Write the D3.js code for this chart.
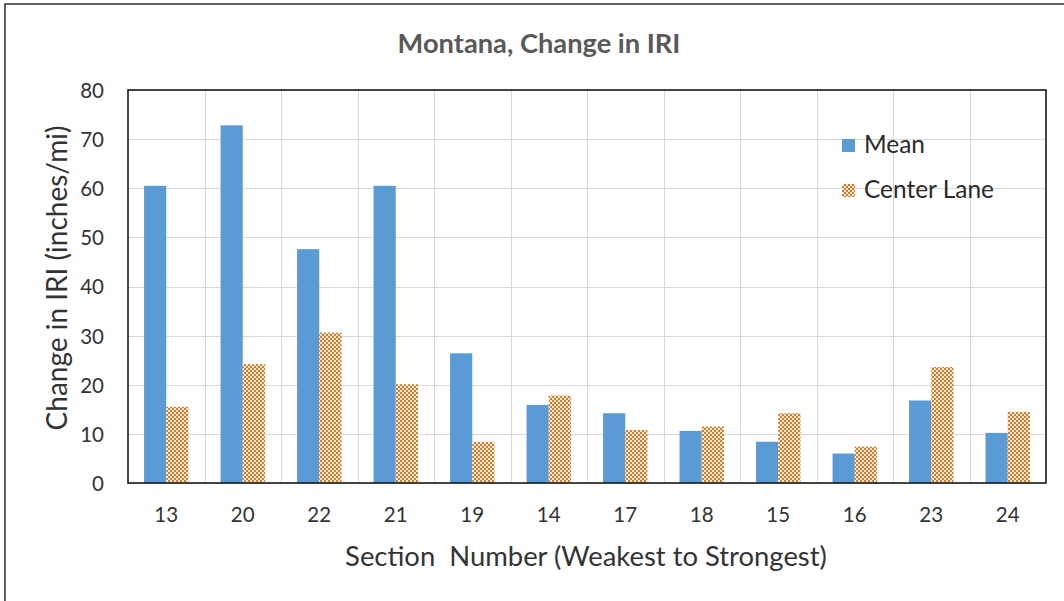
<!DOCTYPE html>
<html>
<head>
<meta charset="utf-8">
<script src="https://cdn.jsdelivr.net/npm/d3@7"></script>
<style>
  html, body { margin: 0; padding: 0; background: #fff; }
  svg { display: block; }
  text { font-family: Lato, "Open Sans", "Noto Sans", sans-serif; }
</style>
</head>
<body>
<svg id="chart" width="1064" height="601"></svg>
<script>
// ---- data ----
const categories = ["13", "20", "22", "21", "19", "14", "17", "18", "15", "16", "23", "24"];
const seriesNames = ["Mean", "Center Lane"];
const meanValues = [60.5, 72.8, 47.6, 60.5, 26.4, 15.9, 14.2, 10.6, 8.4, 6.0, 16.8, 10.2];
const centerLaneValues = [15.5, 24.2, 30.6, 20.1, 8.4, 17.8, 10.8, 11.5, 14.2, 7.4, 23.6, 14.5];
const yTicks = [0, 10, 20, 30, 40, 50, 60, 70, 80];
const titleText = "Montana, Change in IRI";
const xTitleText = "Section  Number (Weakest to Strongest)";
const yTitleText = "Change in IRI (inches/mi)";

// ---- layout ----
const W = 1064, H = 601;
const plot = { left: 128, top: 90, right: 1046, bottom: 483 };
const svg = d3.select("#chart");

svg.append("rect").attr("x", 0).attr("y", 0).attr("width", W).attr("height", H).attr("fill", "#fff");
// outer chart border (right/bottom lie outside the photographed area)
svg.append("rect").attr("x", 5).attr("y", 4).attr("width", W + 20).attr("height", H + 20)
  .attr("fill", "none").attr("stroke", "#2b2b2b").attr("stroke-width", 1.5);

// pattern for Center Lane
const defs = svg.append("defs");
const pat = defs.append("pattern").attr("id", "checker").attr("patternUnits", "userSpaceOnUse")
  .attr("width", 4).attr("height", 4);
pat.append("rect").attr("width", 4).attr("height", 4).attr("fill", "#fdeccc");
pat.append("rect").attr("x", 0).attr("y", 0).attr("width", 2).attr("height", 2).attr("fill", "#d07a36");
pat.append("rect").attr("x", 2).attr("y", 2).attr("width", 2).attr("height", 2).attr("fill", "#d07a36");

const x0 = d3.scaleBand().domain(categories).range([plot.left, plot.right]).paddingInner(0).paddingOuter(0);
const groupFrac = 0.58;
const x1 = d3.scaleBand().domain(seriesNames)
  .range([x0.bandwidth() * (1 - groupFrac) / 2, x0.bandwidth() * (1 + groupFrac) / 2]);
const y = d3.scaleLinear().domain([0, 80]).range([plot.bottom, plot.top]);

// gridlines
const grid = svg.append("g").attr("stroke", "#d9d9d9").attr("stroke-width", 1);
yTicks.forEach(t => {
  grid.append("line").attr("x1", plot.left).attr("x2", plot.right)
    .attr("y1", Math.round(y(t)) + 0.5).attr("y2", Math.round(y(t)) + 0.5);
});
categories.forEach((c, i) => {
  if (i === 0) return;
  const xx = Math.round(x0(c)) + 0.5;
  grid.append("line").attr("x1", xx).attr("x2", xx).attr("y1", plot.top).attr("y2", plot.bottom);
});

// bars
const rows = categories.map((c, i) => ({ cat: c, vals: [meanValues[i], centerLaneValues[i]] }));
const fills = ["#5b9bd5", "url(#checker)"];
const g = svg.append("g");
rows.forEach(r => {
  r.vals.forEach((v, k) => {
    g.append("rect")
      .attr("x", x0(r.cat) + x1(seriesNames[k]))
      .attr("y", y(v))
      .attr("width", x1.bandwidth())
      .attr("height", y(0) - y(v))
      .attr("fill", fills[k]);
  });
});

// plot border
svg.append("rect").attr("x", plot.left).attr("y", plot.top)
  .attr("width", plot.right - plot.left).attr("height", plot.bottom - plot.top)
  .attr("fill", "none").attr("stroke", "#1a1a1a").attr("stroke-width", 1.6);

// text fitting helper
function fitWidth(sel, target) {
  sel.attr("font-size", 100);
  const w = sel.node().getComputedTextLength();
  const s = 100 * target / w;
  sel.attr("font-size", s);
  return s;
}

const tickSize = 20.5;

// y axis
const yAxis = d3.axisLeft(y).tickValues(yTicks).tickSize(0).tickPadding(0);
const yg = svg.append("g").attr("transform", `translate(104,0)`).call(yAxis);
yg.select(".domain").remove();
yg.selectAll("text").attr("font-size", tickSize).attr("fill", "#333")
  .style("font-family", "Lato, 'Open Sans', sans-serif").attr("dy", "0.36em").attr("x", 0);

// x axis
const xAxis = d3.axisBottom(x0).tickSize(0).tickPadding(0);
const xg = svg.append("g").call(xAxis);
xg.select(".domain").remove();
xg.selectAll("text").attr("font-size", tickSize).attr("fill", "#333")
  .style("font-family", "Lato, 'Open Sans', sans-serif").attr("y", 522).attr("dy", 0);

// title
const title = svg.append("text").text(titleText).attr("x", 539).attr("y", 53)
  .attr("text-anchor", "middle").attr("font-weight", "bold").attr("fill", "#595959");
fitWidth(title, 283);

// x title
const xt = svg.append("text").text(xTitleText).attr("x", 586).attr("y", 566)
  .attr("text-anchor", "middle").attr("fill", "#333").style("white-space", "pre");
fitWidth(xt, 482);

// y title
const yt = svg.append("text").text(yTitleText)
  .attr("transform", "translate(67,278) rotate(-90)")
  .attr("text-anchor", "middle").attr("fill", "#333");
fitWidth(yt, 305);

// legend
const leg = svg.append("g");
const legY = [139, 184];
const legText = [];
seriesNames.forEach((n, k) => {
  leg.append("rect").attr("x", 842).attr("y", legY[k]).attr("width", 13).attr("height", 13).attr("fill", fills[k]);
  legText.push(leg.append("text").text(n).attr("x", 864).attr("y", legY[k] + 13.5).attr("fill", "#2a2a2a"));
});
const legSize = fitWidth(legText[1], 130);
legText[0].attr("font-size", legSize);
</script>
</body>
</html>
